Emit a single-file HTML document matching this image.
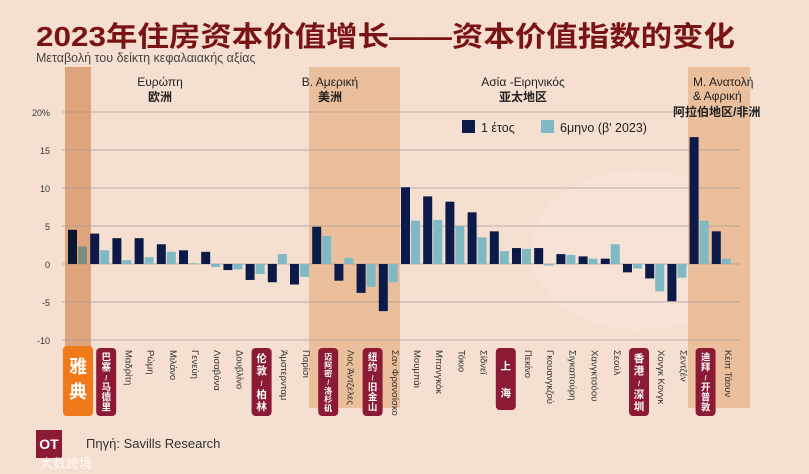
<!DOCTYPE html>
<html><head><meta charset="utf-8"><style>
body{margin:0;width:809px;height:474px;overflow:hidden;background:#f5dfd0;font-family:"Liberation Sans","Noto Sans CJK SC",sans-serif;}
svg{display:block}
</style></head><body>
<svg id="c" width="809" height="474">
<rect width="809" height="474" fill="#f5dfd0"/>
<ellipse cx="640" cy="250" rx="110" ry="80" fill="#f8ebe2" opacity="0.35"/>
<text x="36" y="46" font-size="28" font-weight="bold" fill="#7a1414" textLength="699" lengthAdjust="spacingAndGlyphs" font-family="Liberation Sans, Noto Sans CJK SC, sans-serif">2023年住房资本价值增长——资本价值指数的变化</text>
<text x="36" y="62" font-size="12.5" fill="#444">Μεταβολή του δείκτη κεφαλαιακής αξίας</text>
<g id="bands"></g><g id="grid"></g><g id="bars"></g><g id="labels"></g>
<g>
<rect x="462" y="120" width="13" height="13" fill="#0c1a4a"/>
<text x="481" y="132" font-size="12.5" fill="#222">1 έτος</text>
<rect x="541" y="120" width="13" height="13" fill="#7fb9c4"/>
<text x="560" y="132" font-size="12.5" fill="#222">6μηνο (β' 2023)</text>
</g>
<g font-size="12" fill="#222" text-anchor="middle">
<text x="160" y="86">Ευρώπη</text>
<text x="160" y="101" font-weight="bold">欧洲</text>
<text x="330" y="86">Β. Αμερική</text>
<text x="330" y="101" font-weight="bold">美洲</text>
<text x="523" y="86">Ασία -Ειρηνικός</text>
<text x="523" y="101" font-weight="bold">亚太地区</text>
<text x="693" y="86" text-anchor="start">Μ. Ανατολή</text>
<text x="693" y="100" text-anchor="start">&amp; Αφρική</text>
<text x="673" y="116" text-anchor="start" font-weight="bold">阿拉伯地区/非洲</text>
</g>
<rect x="36" y="430" width="26" height="28" fill="#8b1a35"/>
<text x="49" y="449" font-size="14" font-weight="bold" fill="#fff" text-anchor="middle">OT</text>
<text x="86" y="448" font-size="13" fill="#333">Πηγή: Savills Research</text>
<text x="40" y="468" font-size="13" fill="#fff" opacity="0.8">大数跨境</text>
</svg>
<script>
const cities=["Αθήνα","Βαρκελώνη","Μαδρίτη","Ρώμη","Μιλάνο","Γενεύη","Λισαβόνα","Δουβλίνο","Λονδίνο","Άμστερνταμ","Παρίσι","Μαϊάμι","Λος Άντζελες","Νέα Υόρκη","Σαν Φρανσίσκο","Μουμπάι","Μπανγκόκ","Τόκιο","Σίδνεϊ","Σανγκάη","Πεκίνο","Γκουανγκζού","Σιγκαπούρη","Χανγκτσόου","Σεούλ","Σενζέν","Χονγκ Κονγκ","Σεντζέν","Ντουμπάι","Κέιπ Τάουν"];
const yearVals=[4.5,4.0,3.4,3.4,2.6,1.8,1.6,-0.8,-2.1,-2.4,-2.7,4.9,-2.2,-3.8,-6.2,10.1,8.9,8.2,6.8,4.3,2.1,2.1,1.3,1.0,0.7,-1.1,-1.9,-4.9,16.7,4.3];
const halfVals=[2.3,1.8,0.5,0.9,1.6,0.1,-0.4,-0.7,-1.3,1.3,-1.7,3.7,0.8,-3.0,-2.4,5.7,5.8,5.0,3.5,1.7,2.0,-0.2,1.2,0.7,2.6,-0.6,-3.6,-1.8,5.7,0.7];
const yTicks=[20,15,10,5,0,-5,-10];
const tickLabels=["20%","15","10","5","0","-5","-10"];
const pills=[[1,"巴塞/马德里"],[8,"伦敦/柏林"],[11,"迈阿密/洛杉矶"],[13,"纽约/旧金山"],[19,"上海"],[25,"香港/深圳"],[28,"迪拜/开普敦"]];
const NS="http://www.w3.org/2000/svg";
const y=v=>264-v*7.6;
const x=i=>65+i*22.2;
function mk(tag,attrs,parent){const e=document.createElementNS(NS,tag);for(const k in attrs)e.setAttribute(k,attrs[k]);parent.appendChild(e);return e;}
const bands=document.getElementById('bands'),grid=document.getElementById('grid'),bars=document.getElementById('bars'),labels=document.getElementById('labels');
let b=mk('rect',{x:65,y:67,width:26,height:280,fill:'#e0a47c'},bands);


b=mk('rect',{x:309,y:67,width:91,height:341,fill:'#ebbf9c'},bands);


b=mk('rect',{x:688,y:67,width:62,height:341,fill:'#ebbf9c'},bands);


yTicks.forEach((t,i)=>{
 let l=mk('line',{x1:62,x2:740,y1:y(t),y2:y(t),stroke:'#a89a92','stroke-width':1,opacity:0.7},grid);
 
 
 let tx=mk('text',{x:50,y:y(t)+4,'font-size':9,fill:'#333','text-anchor':'end'},grid);tx.textContent=tickLabels[i];
 
 
});
cities.forEach((c,i)=>{
 const v1=yearVals[i],v2=halfVals[i];
 let r=mk('rect',{x:x(i)+3,y:Math.min(y(v1),y(0)),width:9,height:Math.abs(y(v1)-y(0)),fill:i==0?'#0a1530':'#0c1a4a'},bars);
 
 
 r=mk('rect',{x:x(i)+13,y:Math.min(y(v2),y(0)),width:9,height:Math.abs(y(v2)-y(0)),fill:i==0?'#7b8e80':'#7fb9c4'},bars);
 
 
 if(i>0){
 let t=mk('text',{x:0,y:0,'font-size':9.5,fill:'#333',transform:`translate(${x(i)+16},350) rotate(90)`},labels);
 t.textContent=c;
 
 }
});
let ap=mk('rect',{x:63,y:346,width:30,height:70,rx:4,fill:'#f07a1a'},labels);


['雅','典'].forEach((ch,k)=>{let t=mk('text',{x:78,y:373+k*25,'font-size':18,'font-weight':'bold',fill:'#fff','text-anchor':'middle'},labels);t.textContent=ch;
 
 });
pills.forEach(([i,s])=>{
 const chars=[...s],h=chars.length>4?68:62,cx=x(i)+19,step=(h-8)/chars.length,fs=Math.min(10.5,step*0.95);
 let p=mk('rect',{x:cx-10,y:348,width:20,height:h,rx:4,fill:'#8b1a35'},labels);
 
 
 chars.forEach((ch,k)=>{let t=mk('text',{x:cx,y:352+step*(k+0.5)+fs*0.38,'font-size':ch=='/'?7:fs,'font-weight':'bold',fill:'#fff','text-anchor':'middle'},labels);t.textContent=ch;
 
 });
});
</script>
</body></html>
